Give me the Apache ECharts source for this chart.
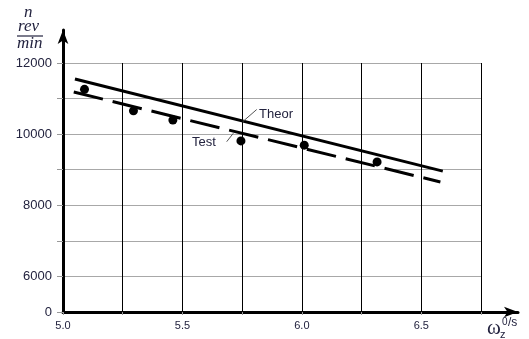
<!DOCTYPE html>
<html><head><meta charset="utf-8">
<script src="https://cdn.jsdelivr.net/npm/echarts@6/dist/echarts.min.js"></script>
<style>html,body{margin:0;padding:0;background:#fff}#c{width:529px;height:339px}</style>
</head><body><div id="c"></div>
<script>
// ---- data ----
const xTickLabels = ['5.0', '5.5', '6.0', '6.5'];
const yTickLabels = { 5000: '0', 6000: '6000', 8000: '8000', 10000: '10000', 12000: '12000' };
const theorX = [5.05, 6.59];
const theorY = [11550, 8960];
const testLineX = [5.045, 6.58];
const testLineY = [11185, 8655];
const testPtX = [5.09, 5.295, 5.46, 5.745, 6.01, 6.315];
const testPtY = [11260, 10655, 10395, 9810, 9690, 9220];
const labelTheor = 'Theor';
const labelTest = 'Test';

const zip = (a, b) => a.map((v, i) => [v, b[i]]);
const txtColor = '#23233f';

const chart = echarts.init(document.getElementById('c'), null, { renderer: 'canvas' });
chart.setOption({
  backgroundColor: '#fff',
  animation: false,
  grid: [
    { left: 63, right: 48, top: 63, bottom: 27 },
    { left: 63, right: 11, top: 30, bottom: 27 }
  ],
  xAxis: [
    {
      gridIndex: 0, type: 'value', min: 5, max: 6.75, interval: 0.25,
      axisLine: { show: false },
      axisTick: { show: true, length: 3, lineStyle: { color: '#999' } },
      splitLine: { show: true, lineStyle: { color: '#000', width: 1 } },
      axisLabel: {
        interval: 0, margin: 8, color: txtColor, fontSize: 11, fontFamily: 'Liberation Sans',
        formatter: v => { const s = v.toFixed(1); return (xTickLabels.includes(s) && Math.abs(v - parseFloat(s)) < 1e-6) ? s : ''; }
      }
    },
    {
      gridIndex: 1, type: 'value', min: 0, max: 1,
      axisLine: { show: true, symbol: ['none', 'arrow'], symbolSize: [8, 14], lineStyle: { color: '#000', width: 3 } },
      axisTick: { show: false }, axisLabel: { show: false }, splitLine: { show: false }
    }
  ],
  yAxis: [
    {
      gridIndex: 0, type: 'value', min: 5000, max: 12000, interval: 1000,
      axisLine: { show: false },
      axisTick: { show: true, length: 6, lineStyle: { color: '#999' } },
      splitLine: { show: true, lineStyle: { color: '#a8a8a8', width: 1 } },
      axisLabel: {
        margin: 11, color: txtColor, fontSize: 13, fontFamily: 'Liberation Sans',
        formatter: v => yTickLabels[v] !== undefined ? yTickLabels[v] : ''
      }
    },
    {
      gridIndex: 1, type: 'value', min: 0, max: 1,
      axisLine: { show: true, symbol: ['none', 'arrow'], symbolSize: [8, 14], lineStyle: { color: '#000', width: 3 } },
      axisTick: { show: false }, axisLabel: { show: false }, splitLine: { show: false }
    }
  ],
  series: [
    {
      name: labelTheor, type: 'line', xAxisIndex: 0, yAxisIndex: 0,
      data: zip(theorX, theorY), showSymbol: false,
      lineStyle: { color: '#000', width: 3 }, z: 3
    },
    {
      name: labelTest, type: 'line', xAxisIndex: 0, yAxisIndex: 0,
      data: zip(testLineX, testLineY), showSymbol: false,
      lineStyle: { color: '#000', width: 3, type: [30, 10] }, z: 3
    },
    {
      name: 'points', type: 'scatter', xAxisIndex: 0, yAxisIndex: 0,
      data: zip(testPtX, testPtY), symbol: 'circle', symbolSize: 9,
      itemStyle: { color: '#000', opacity: 1 }, z: 4
    }
  ],
  graphic: [
    // y axis unit: n, rev / min
    { type: 'text', left: 24, top: 4, style: { text: 'n', font: 'italic 17px "Liberation Serif"', fill: txtColor } },
    { type: 'text', left: 18, top: 18, style: { text: 'rev', font: 'italic 17px "Liberation Serif"', fill: txtColor } },
    { type: 'line', shape: { x1: 17, y1: 36, x2: 43, y2: 36 }, style: { stroke: txtColor, lineWidth: 1.2 } },
    { type: 'text', left: 17, top: 35, style: { text: 'min', font: 'italic 17px "Liberation Serif"', fill: txtColor } },
    // x axis name: omega_z^0/s
    { type: 'text', x: 487, y: 328, style: { text: 'ω', font: '21px "Liberation Serif"', fill: txtColor, textVerticalAlign: 'middle' } },
    { type: 'text', x: 500, y: 335, style: { text: 'z', font: '11px "Liberation Sans"', fill: txtColor, textVerticalAlign: 'middle' } },
    { type: 'text', x: 502, y: 322, style: { text: '0', font: '10px "Liberation Sans"', fill: txtColor, textVerticalAlign: 'middle' } },
    { type: 'text', x: 508, y: 323, style: { text: '/s', font: '12px "Liberation Sans"', fill: txtColor, textVerticalAlign: 'middle' } },
    // annotations
    { type: 'line', shape: { x1: 242.7, y1: 121.7, x2: 256.7, y2: 109.5 }, style: { stroke: '#555', lineWidth: 1 }, z: 5 },
    { type: 'text', x: 259, y: 114, style: { text: labelTheor, font: '13px "Liberation Sans"', fill: txtColor, textVerticalAlign: 'middle' }, z: 5 },
    { type: 'line', shape: { x1: 226.7, y1: 141.7, x2: 233.3, y2: 133.3 }, style: { stroke: '#555', lineWidth: 1 }, z: 5 },
    { type: 'text', x: 192, y: 142, style: { text: labelTest, font: '13px "Liberation Sans"', fill: txtColor, textVerticalAlign: 'middle' }, z: 5 }
  ]
});
</script>
</body></html>
